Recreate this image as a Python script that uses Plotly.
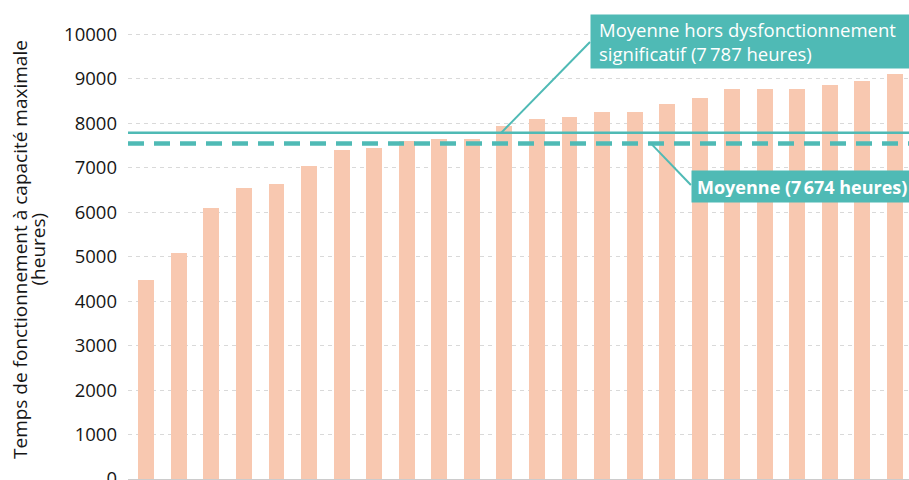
import plotly.graph_objects as go

# ---- data ----
installations = list(range(1, 25))
heures = [4480, 5090, 6100, 6550, 6640, 7045, 7405, 7450, 7605, 7650, 7650, 7945,
          8100, 8145, 8260, 8260, 8440, 8575, 8775, 8775, 8775, 8865, 8955, 9110]
moyenne_hors_dysf = 7787      # solid line
moyenne_trace = 7550          # dashed line as drawn
label_hors = "Moyenne hors dysfonctionnement<br>significatif (7\u2009787 heures)"
label_moy = "<b>Moyenne (7\u202f674 heures)</b>"
titre_l1 = "Temps de fonctionnement à capacité maximale"
titre_l2 = "(heures)"
y_ticks = [0, 1000, 2000, 3000, 4000, 5000, 6000, 7000, 8000, 9000, 10000]

TEAL = "#4FBAB5"
PEACH = "#F8C8B0"
FONT = "Open Sans"
INK = "#161616"

fig = go.Figure()
fig.add_trace(go.Bar(x=installations, y=heures, width=0.49,
                     marker=dict(color=PEACH, line=dict(width=0)),
                     hoverinfo="y"))

# mean lines
fig.add_shape(type="line", xref="paper", x0=0, x1=1, yref="y",
              y0=moyenne_hors_dysf, y1=moyenne_hors_dysf,
              line=dict(color=TEAL, width=2.5), layer="above")
fig.add_shape(type="line", xref="paper", x0=0, x1=1, yref="y",
              y0=moyenne_trace, y1=moyenne_trace,
              line=dict(color=TEAL, width=4.5, dash="16px,10px"), layer="above")

# connectors
fig.add_shape(type="line", xref="x", yref="y", x0=11.90, y0=moyenne_hors_dysf,
              x1=14.63, y1=9831, line=dict(color=TEAL, width=2), layer="above")
fig.add_shape(type="line", xref="x", yref="y", x0=16.50, y0=moyenne_trace,
              x1=17.73, y1=6614, line=dict(color=TEAL, width=2), layer="above")

# label 1: background box + text
fig.add_annotation(x=14.63, y=9843, xref="x", yref="y", xanchor="left", yanchor="middle",
                   text=" ", showarrow=False, width=340, height=53, borderpad=0,
                   bgcolor=TEAL, font=dict(family=FONT, size=10))
fig.add_annotation(x=14.63, y=9843, xref="x", yref="y", xanchor="left", yanchor="middle",
                   xshift=7, text=label_hors, showarrow=False, align="left",
                   font=dict(family=FONT, size=18.5, color="white"))
# label 2
fig.add_annotation(x=17.73, y=6580, xref="x", yref="y", xanchor="left", yanchor="middle",
                   text=label_moy, showarrow=False, align="left", valign="middle",
                   width=230, height=21, borderpad=5, bgcolor=TEAL,
                   font=dict(family=FONT, size=18, color="white"))

# y-axis title (two rotated lines)
for txt, px in [(titre_l1, 19.5), (titre_l2, 37.0)]:
    fig.add_annotation(x=(px - 128) / 781, y=0.5, xref="paper", yref="paper",
                       xanchor="center", yanchor="middle",
                       text=txt, textangle=-90, showarrow=False,
                       font=dict(family=FONT, size=19, color=INK))

fig.update_layout(
    width=909, height=480,
    margin=dict(l=128, r=0, t=20, b=1, autoexpand=False),
    plot_bgcolor="white", paper_bgcolor="white",
    showlegend=False, bargap=0,
    font=dict(family=FONT, color=INK),
    xaxis=dict(range=[0.438, 24.43], showticklabels=False, showgrid=False, zeroline=False,
               showline=True, linecolor="#cccccc", linewidth=2, ticks="", automargin=False),
    yaxis=dict(range=[0, 10326], tickvals=y_ticks, ticktext=[str(v) for v in y_ticks],
               showgrid=True, gridcolor="#d9d9d9", griddash="4px,4px", gridwidth=1,
               zeroline=False, showline=False, ticks="", ticklabelstandoff=10,
               ticklabeloverflow="allow", automargin=False,
               tickfont=dict(family=FONT, size=18.5, color=INK)),
)

fig.write_html("out.html", config={"displayModeBar": False},
               post_script="document.body.style.margin='0';document.body.style.overflow='hidden';")
